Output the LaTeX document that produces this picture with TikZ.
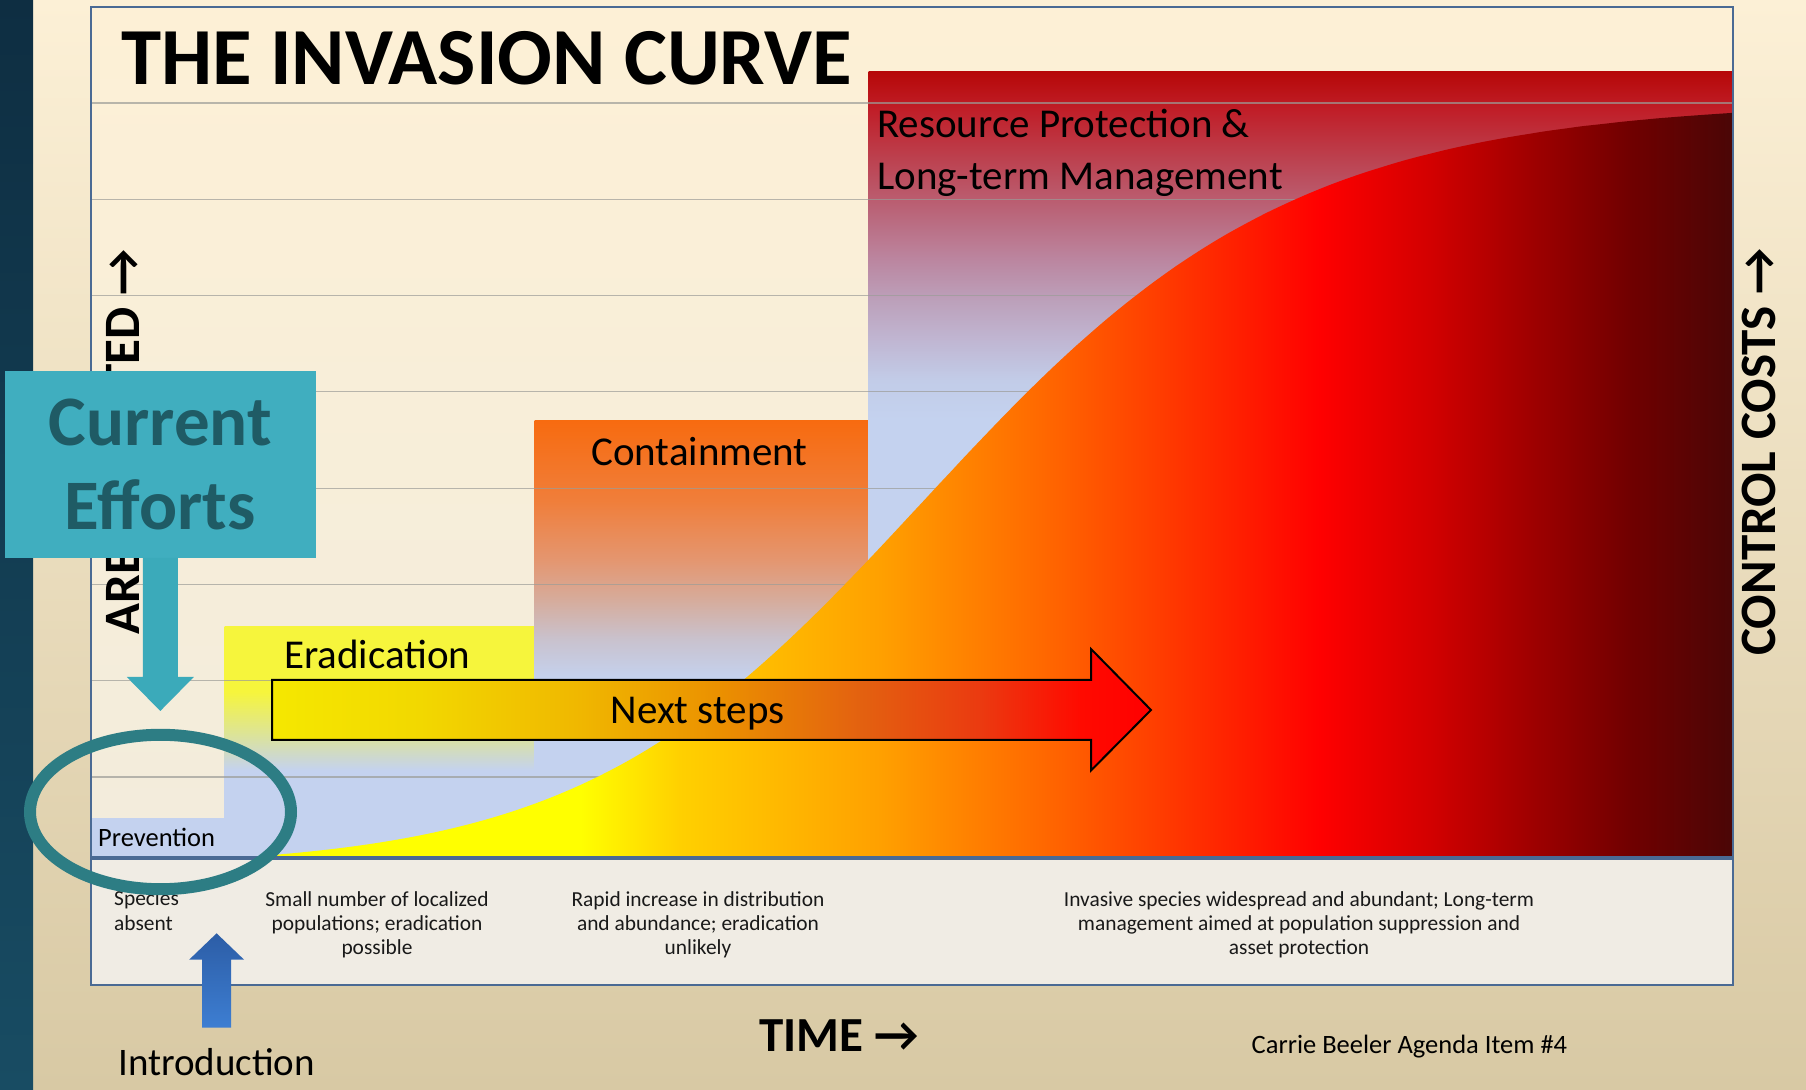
\documentclass[tikz,border=0pt]{standalone}
\usepackage{fontspec}
\setmainfont{Carlito}

\definecolor{pagetop}{HTML}{FCF0D6}
\definecolor{pagebottom}{HTML}{D8C9A4}
\definecolor{striptop}{HTML}{0E2E42}
\definecolor{stripbottom}{HTML}{184C63}
\definecolor{chartop}{HTML}{FDF0D6}
\definecolor{chartbottom}{HTML}{F2ECDC}
\definecolor{bandfill}{HTML}{F0ECE4}
\definecolor{framecol}{HTML}{4A6A94}
\definecolor{gridcol}{HTML}{9C9C98}
\definecolor{paleblue}{HTML}{C4D2EF}
\definecolor{effortsfill}{HTML}{40AEBF}
\definecolor{effortstext}{HTML}{1F5B65}
\definecolor{ringcol}{HTML}{2D7D84}
\definecolor{downarrow}{HTML}{3BAABA}
\definecolor{uptop}{HTML}{2C5DA6}
\definecolor{upbottom}{HTML}{3D7ED2}

% Eradication block
\definecolor{eradyellow}{HTML}{F6F53C}
\definecolor{eradmid}{HTML}{DDE496}
\pgfdeclareverticalshading{eradshade}{100bp}{color(0bp)=(paleblue); color(44bp)=(paleblue); color(52bp)=(eradmid); color(61bp)=(eradyellow); color(100bp)=(eradyellow)}

% Containment block
\definecolor{contA}{HTML}{C9C2CE}
\definecolor{contB}{HTML}{D6AC9C}
\definecolor{contC}{HTML}{E49670}
\definecolor{contD}{HTML}{F07E3A}
\definecolor{contE}{HTML}{F76B10}
\pgfdeclareverticalshading{contshade}{100bp}{color(0bp)=(paleblue); color(45.4bp)=(paleblue); color(50bp)=(contA); color(54.5bp)=(contB); color(59.1bp)=(contC); color(65.9bp)=(contD); color(75bp)=(contE); color(100bp)=(contE)}

% Resource protection block
\definecolor{resA}{HTML}{C2CCE8}
\definecolor{resB}{HTML}{C0B6D2}
\definecolor{resC}{HTML}{BCA0BA}
\definecolor{resD}{HTML}{BB86A0}
\definecolor{resE}{HTML}{BA6478}
\definecolor{resF}{HTML}{BC4250}
\definecolor{resG}{HTML}{C01E28}
\definecolor{resH}{HTML}{B60808}
\pgfdeclareverticalshading{resshade}{100bp}{color(0bp)=(paleblue); color(52.85bp)=(paleblue); color(55.4bp)=(resA); color(57.95bp)=(resB); color(60.5bp)=(resC); color(63.05bp)=(resD); color(66.2bp)=(resE); color(69.4bp)=(resF); color(72.6bp)=(resG); color(75bp)=(resH); color(100bp)=(resH)}

% Invasion curve
\definecolor{curA}{HTML}{FFFF00}
\definecolor{curB}{HTML}{FFD000}
\definecolor{curC}{HTML}{FFA000}
\definecolor{curD}{HTML}{FF6200}
\definecolor{curE}{HTML}{FF0000}
\definecolor{curF}{HTML}{D20000}
\definecolor{curG}{HTML}{A00000}
\definecolor{curH}{HTML}{700000}
\definecolor{curI}{HTML}{4A0606}
\pgfdeclarehorizontalshading{curveshade}{100bp}{color(0bp)=(curA); color(36.8bp)=(curA); color(40.1bp)=(curB); color(46.75bp)=(curC); color(52.7bp)=(curD); color(61.3bp)=(curE); color(65bp)=(curF); color(68.25bp)=(curG); color(71.6bp)=(curH); color(75bp)=(curI); color(100bp)=(curI)}

% Next steps arrow
\definecolor{nxtA}{HTML}{F5E800}
\definecolor{nxtB}{HTML}{F2D800}
\definecolor{nxtC}{HTML}{F0B800}
\definecolor{nxtD}{HTML}{EB9000}
\definecolor{nxtE}{HTML}{E36010}
\definecolor{nxtF}{HTML}{EB3A10}
\definecolor{nxtG}{HTML}{FF0A00}
\pgfdeclarehorizontalshading{nextshade}{100bp}{color(0bp)=(nxtA); color(25bp)=(nxtA); color(33.4bp)=(nxtB); color(42.3bp)=(nxtC); color(50.5bp)=(nxtD); color(58.7bp)=(nxtE); color(65.3bp)=(nxtF); color(71bp)=(nxtG); color(75bp)=(curE); color(100bp)=(curE)}

\begin{document}
\begin{tikzpicture}[x = 1pt, y = 1pt,
	txt/.style = {inner sep = 0pt, text = black},
	band/.style = {txt, anchor = north, align = center, text = black!90, font = \fontsize{21.4}{24.4}\selectfont},
	zone/.style = {txt, anchor = base west, font = \fontsize{41}{51}\selectfont},
	axistext/.style = {txt, rotate = 90, font = \fontsize{51}{51}\selectfont\bfseries}]

	\useasboundingbox (0, 0) rectangle (1806, 1089);

	% Page background

	\shade [top color = pagetop, bottom color = pagebottom] (0, 0) rectangle (1806, 1089);
	\shade [top color = striptop, bottom color = stripbottom] (0, 0) rectangle (33, 1089);

	% Chart area

	\shade [top color = chartop, bottom color = chartbottom] (91, 231) rectangle (1733, 1082);

	% Management stages

	\fill [paleblue] (91, 231) rectangle (224.6, 271);
	\shade [shading = eradshade] (224.6, 231) rectangle (534.6, 462);
	\shade [shading = contshade] (534.6, 231) rectangle (868.6, 668);
	\shade [shading = resshade] (868.6, 231) rectangle (1733, 1017);

	% Grid lines

	\foreach \k in {0, ..., 7}
		\draw [gridcol, line width = 1.2pt, opacity = 0.7] (91, 986 - 96.3 * \k) -- (1733, 986 - 96.3 * \k);

	% Invasion curve

	\shade [shading = curveshade] (224, 231) -- plot [domain = 230:1733, samples = 120, smooth] (\x, {231 + 759 * (1 / (1 + exp(-(\x - 940) / (170 + 0.025 * (\x - 600)))) - 0.012) / 0.988}) -- (1733, 231) -- cycle;

	% Description band and frame

	\fill [bandfill] (91, 104) rectangle (1733, 230.5);
	\draw [framecol, line width = 4pt] (91, 230.5) -- (1733, 230.5);
	\draw [framecol, line width = 2.5pt] (91, 104) rectangle (1733, 1082);

	% Next steps arrow

	\shadedraw [shading = nextshade, draw = black, line width = 2pt] (272, 409) -- (1091, 409) -- (1091, 440) -- (1151, 379) -- (1091, 318.5) -- (1091, 349) -- (272, 349) -- cycle;

	% Labels

	\node (title) [txt, anchor = base west, font = \fontsize{81}{81}\selectfont\bfseries] at (121, 1004) {THE INVASION CURVE};

	\node (resource) [zone] at (877, 951) {Resource Protection \&};
	\node (longterm) [zone] at (877, 899.6) {Long-term Management};
	\node (containment) [zone] at (591, 623) {Containment};
	\node (eradication) [zone] at (284, 420) {Eradication};
	\node (nextsteps) [zone] at (610.6, 365.3) {Next steps};
	\node (prevention) [txt, anchor = base west, font = \fontsize{26.5}{26.5}\selectfont] at (98, 242) {Prevention};

	\node (absent) [band, anchor = north west, align = left] at (114, 198) {Species\\absent};
	\node (localized) [band] at (377, 198) {Small number of localized\\populations; eradication\\possible};
	\node (rapid) [band] at (698, 198) {Rapid increase in distribution\\and abundance; eradication\\unlikely};
	\node (widespread) [band] at (1299, 198) {Invasive species widespread and abundant; Long-term\\management aimed at population suppression and\\asset protection};

	\node (time) [txt, anchor = base west, font = \fontsize{49}{49}\selectfont\bfseries] at (759, 37.4) {TIME →};
	\node (credit) [txt, anchor = base west, font = \fontsize{26.5}{26.5}\selectfont] at (1251.5, 35) {Carrie Beeler Agenda Item \#4};
	\node (intro) [txt, anchor = base west, font = \fontsize{39}{39}\selectfont] at (118, 13) {Introduction};

	\node (costs) [axistext] at (1758.5, 637) {CONTROL COSTS →};
	\node (area) [axistext] at (123, 647) {AREA INFESTED →};

	% Current efforts

	\node (efforts) [fill = effortsfill, minimum width = 311.4pt, minimum height = 186.8pt, inner sep = 0pt, align = center, text = effortstext, font = \fontsize{71}{84}\selectfont\bfseries] at (160.3, 624.6) {Current\\Efforts};

	\fill [downarrow] ([xshift = -17.5pt] efforts.south) -- ++(0, -119) -- ++(-16, 0) -- ++(33.5, -34) -- ++(33.5, 34) -- ++(-16, 0) -- ++(0, 119) -- cycle;

	\draw [ringcol, line width = 12pt] (160.5, 277) ellipse [x radius = 130.5, y radius = 77.2];

	% Introduction arrow

	\shade [top color = uptop, bottom color = upbottom] ([xshift = -14.5pt, yshift = 21pt] intro.north) -- ++(0, 68) -- ++(-13, 0) -- ++(27.5, 26.4) -- ++(27.5, -26.4) -- ++(-13, 0) -- ++(0, -68) -- cycle;

\end{tikzpicture}
\end{document}
